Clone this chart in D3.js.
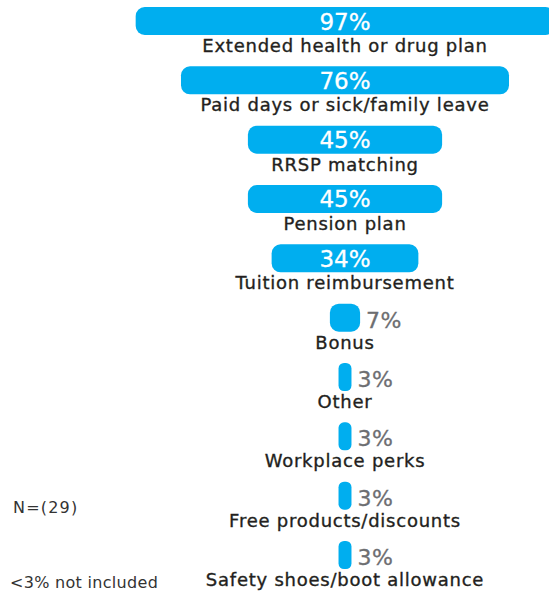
<!DOCTYPE html>
<html>
<head>
<meta charset="utf-8">
<script src="https://cdn.jsdelivr.net/npm/d3@7"></script>
<style>
  html, body { margin: 0; padding: 0; background: #fff; }
  svg { display: block; }
</style>
</head>
<body>
<svg id="chart" width="549" height="592"></svg>
<script>
// Benefits offered (share of respondents)
const categories = [
  "Extended health or drug plan",
  "Paid days or sick/family leave",
  "RRSP matching",
  "Pension plan",
  "Tuition reimbursement",
  "Bonus",
  "Other",
  "Workplace perks",
  "Free products/discounts",
  "Safety shoes/boot allowance"
];
const values = [97, 76, 45, 45, 34, 7, 3, 3, 3, 3];
const notes = ["N=(29)", "<3% not included"];

const data = categories.map((c, i) => ({ category: c, value: values[i] }));

const centerX = 345;
const blue = "#00aeef";
const font = "'DejaVu Sans', sans-serif";

const svg = d3.select("#chart");

// Bar widths, centred on a common axis
const x = d3.scaleLinear().domain([0, 100]).range([0, 431.6]);
const y = d3.scaleBand()
  .domain(categories)
  .range([7, 569])
  .paddingInner(0.528)
  .paddingOuter(0)
  .align(0);

const insideMin = 20; // bars at least this wide hold their label

const rows = svg.append("g").selectAll("g")
  .data(data)
  .join("g")
  .attr("transform", d => `translate(0,${y(d.category)})`);

rows.append("rect")
  .attr("x", d => centerX - x(d.value) / 2)
  .attr("y", 0)
  .attr("width", d => x(d.value))
  .attr("height", y.bandwidth())
  .attr("rx", d => Math.min(9, x(d.value) / 2 - 1))
  .attr("fill", blue);

rows.append("text")
  .attr("x", d => d.value >= insideMin ? centerX : centerX + x(d.value) / 2 + 6)
  .attr("y", d => y.bandwidth() / 2 + (d.value >= insideMin ? 8.5 : 10))
  .attr("text-anchor", d => d.value >= insideMin ? "middle" : "start")
  .attr("fill", d => d.value >= insideMin ? "#ffffff" : "#6d6e71")
  .attr("font-family", font)
  .attr("font-size", d => d.value >= insideMin ? 23 : 22)
  .attr("letter-spacing", d => d.value >= insideMin ? 0 : 0.5)
  .attr("stroke", d => d.value >= insideMin ? "#ffffff" : "#6d6e71")
  .attr("stroke-width", 0.3)
  .text(d => d.value + "%");

rows.append("text")
  .attr("x", centerX)
  .attr("y", y.bandwidth() + 17)
  .attr("text-anchor", "middle")
  .attr("fill", "#231f20")
  .attr("stroke", "#231f20")
  .attr("stroke-width", 0.35)
  .attr("font-family", font)
  .attr("font-size", 18)
  .attr("letter-spacing", 0.75)
  .text(d => d.category);

svg.append("text")
  .attr("x", 13).attr("y", 513)
  .attr("fill", "#333")
  .attr("font-family", font)
  .attr("font-size", 16)
  .attr("letter-spacing", 1.2)
  .text(notes[0]);

svg.append("text")
  .attr("x", 10).attr("y", 588)
  .attr("fill", "#333")
  .attr("font-family", font)
  .attr("font-size", 16)
  .attr("letter-spacing", 0.3)
  .text(notes[1]);
</script>
</body>
</html>
